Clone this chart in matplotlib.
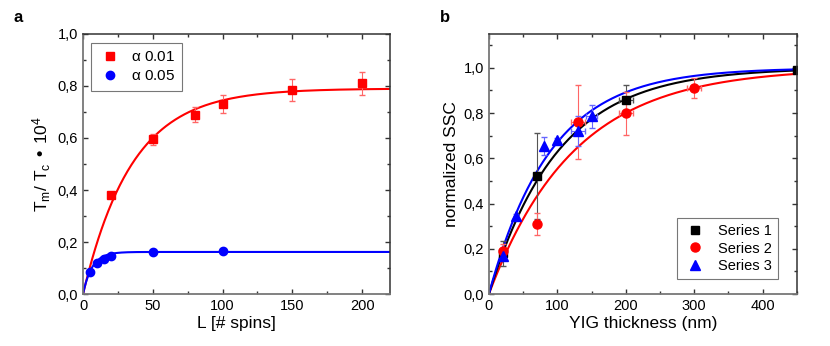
import numpy as np
import matplotlib
matplotlib.use('Agg')
import matplotlib.pyplot as plt
from matplotlib.ticker import FuncFormatter, MultipleLocator

plt.rcParams['font.family'] = ['Liberation Sans', 'DejaVu Sans']
plt.rcParams['mathtext.default'] = 'regular'

# panel a data
L_01 = [20, 50, 80, 100, 150, 200]
T_01 = [0.38, 0.595, 0.69, 0.73, 0.785, 0.81]
T_01_err = [0.01, 0.022, 0.03, 0.035, 0.042, 0.045]
L_05 = [5, 10, 15, 20, 50, 100]
T_05 = [0.085, 0.118, 0.135, 0.145, 0.162, 0.165]
fit_a = {'01': (0.79, 35.0), '05': (0.162, 6.5)}

# panel b data
s1_x = [20, 70, 200, 450]
s1_y = [0.18, 0.52, 0.86, 0.99]
s1_yerr = [0.055, 0.19, 0.062, 0.0]
s1_xerr = [0, 0, 10, 0]
s2_x = [20, 70, 130, 200, 300]
s2_y = [0.19, 0.31, 0.76, 0.80, 0.91]
s2_yerr = [0.03, 0.05, 0.165, 0.095, 0.045]
s2_xerr = [0, 0, 10, 10, 10]
s3_x = [20, 40, 80, 100, 130, 150]
s3_y = [0.17, 0.345, 0.655, 0.68, 0.72, 0.785]
s3_yerr = [0.02, 0.01, 0.04, 0.012, 0.065, 0.05]
s3_xerr = [0, 0, 0, 0, 10, 8]
tau_b = {'s1': 101.0, 's2': 124.0, 's3': 90.0}

comma = FuncFormatter(lambda v, p: ('%.1f' % v).replace('.', ','))


def style_axes(ax):
    ax.tick_params(which='both', direction='in', top=True, right=True, labelsize=10.5, color='#333333')
    ax.tick_params(which='major', length=3.5, width=1)
    ax.tick_params(which='minor', length=2, width=1)
    for s in ['bottom', 'left']:
        ax.spines[s].set_color('#777777')
        ax.spines[s].set_linewidth(1.3)
    for s in ['top', 'right']:
        ax.spines[s].set_color('#333333')
        ax.spines[s].set_linewidth(1.1)
    ax.yaxis.set_major_formatter(comma)


fig = plt.figure(figsize=(8.3, 3.46), dpi=100)

# panel a
ax1 = fig.add_axes([0.100, 0.150, 0.370, 0.752])
x = np.linspace(0, 220, 400)
A, t = fit_a['01']
ax1.plot(x, A * (1 - np.exp(-x / t)), color='#ff0000', lw=1.5)
A, t = fit_a['05']
ax1.plot(x, A * (1 - np.exp(-x / t)), color='#0000ff', lw=1.5)
ax1.errorbar(L_01, T_01, yerr=T_01_err, fmt='none', ecolor='#ff6666', elinewidth=0.8, capsize=2)
ax1.plot(L_01, T_01, 's', color='#ff0000', ms=6, label=r'$\alpha$ 0.01')
ax1.plot(L_05, T_05, 'o', color='#0000ff', ms=6, label=r'$\alpha$ 0.05')
ax1.set_xlim(0, 220)
ax1.set_ylim(0, 1.0)
ax1.xaxis.set_major_locator(MultipleLocator(50))
ax1.xaxis.set_minor_locator(MultipleLocator(25))
ax1.yaxis.set_major_locator(MultipleLocator(0.2))
ax1.yaxis.set_minor_locator(MultipleLocator(0.1))
style_axes(ax1)
ax1.set_xlabel('L [# spins]', fontsize=12.5, labelpad=2)
ax1.set_ylabel('T$_m$/ T$_c$ • 10$^4$', fontsize=12.5, labelpad=3)
leg = ax1.legend(loc='upper left', fontsize=11, frameon=True, fancybox=False, edgecolor='#555555',
                 handletextpad=0.6, borderpad=0.5, labelspacing=0.3, handlelength=1.5,
                 borderaxespad=0, bbox_to_anchor=(0.026, 0.966))
leg.get_frame().set_linewidth(0.8)
fig.text(0.016, 0.935, 'a', fontsize=12, fontweight='bold')

# panel b
ax2 = fig.add_axes([0.589, 0.150, 0.371, 0.752])
x = np.linspace(0, 450, 400)
ax2.plot(x, 1 - np.exp(-x / tau_b['s2']), color='#ff0000', lw=1.5)
ax2.plot(x, 1 - np.exp(-x / tau_b['s1']), color='black', lw=1.5)
ax2.plot(x, 1 - np.exp(-x / tau_b['s3']), color='#0000ff', lw=1.5)
ax2.errorbar(s1_x, s1_y, yerr=s1_yerr, xerr=s1_xerr, fmt='none', ecolor='#555555', elinewidth=0.8, capsize=2)
ax2.errorbar(s2_x, s2_y, yerr=s2_yerr, xerr=s2_xerr, fmt='none', ecolor='#ff6666', elinewidth=0.8, capsize=2)
ax2.errorbar(s3_x, s3_y, yerr=s3_yerr, xerr=s3_xerr, fmt='none', ecolor='#6666ff', elinewidth=0.8, capsize=2)
ax2.plot(s1_x, s1_y, 's', color='black', ms=5.5, label='Series 1')
ax2.plot(s2_x, s2_y, 'o', color='#ff0000', ms=6.5, label='Series 2')
ax2.plot(s3_x, s3_y, '^', color='#0000ff', ms=6.5, label='Series 3')
ax2.set_xlim(0, 450)
ax2.set_ylim(0, 1.15)
ax2.xaxis.set_major_locator(MultipleLocator(100))
ax2.xaxis.set_minor_locator(MultipleLocator(50))
ax2.yaxis.set_major_locator(MultipleLocator(0.2))
ax2.yaxis.set_minor_locator(MultipleLocator(0.1))
style_axes(ax2)
ax2.set_xlabel('YIG thickness (nm)', fontsize=12.5, labelpad=2)
ax2.set_ylabel('normalized SSC', fontsize=12.5, labelpad=3)
leg = ax2.legend(loc='lower right', fontsize=10.5, frameon=True, fancybox=False, edgecolor='#555555',
                 handletextpad=0.8, borderpad=0.4, labelspacing=0.25, handlelength=1.6,
                 borderaxespad=0, bbox_to_anchor=(0.938, 0.058))
leg.get_frame().set_linewidth(0.8)
fig.text(0.530, 0.935, 'b', fontsize=12, fontweight='bold')

fig.savefig('out.png', dpi=100)
